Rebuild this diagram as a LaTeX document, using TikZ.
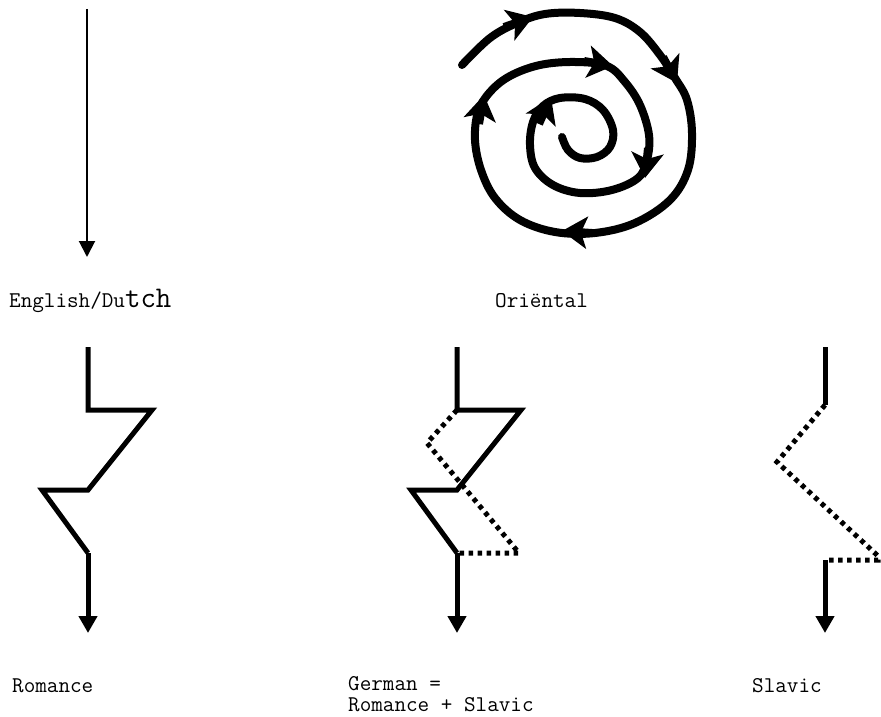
\documentclass[tikz,border=0pt]{standalone}
\usepackage{fontspec}
\usetikzlibrary{arrows.meta}
\tikzset{
  label/.style={font=\ttfamily\fontsize{22.5}{21}\selectfont, inner sep=0pt, anchor=base west, align=left},
  thinarrow/.style={line width=2pt, -{Triangle[length=16pt, width=16pt]}},
  branch/.style={line width=5pt},
  dotbranch/.style={line width=5pt, dash pattern=on 4.5pt off 4.5pt},
  downarrow/.style={line width=5pt, -{Triangle[length=17pt, width=18pt]}},
  spiral/.style={line width=8pt, line cap=round, line join=round},
  spiralhead/.style={line width=8pt, -{Stealth[length=25pt, width=32pt, inset=6pt]}}
}
\begin{document}
\begin{tikzpicture}[x=1pt, y=-1pt]
        \useasboundingbox (0,0) rectangle (881,717);
        % English/Dutch
        \coordinate (eTop) at (87,9);
        \coordinate (eTip) at (87,257);
        \draw[thinarrow] (eTop) -- (eTip);
        \node[label] (english) at (9,307) {English/Du{\fontsize{30}{30}\selectfont tch}};
        % Oriental spiral
        \draw[spiral] plot[smooth, tension=0.6] coordinates {
          (462,65) (490,38) (517,23) (545,14) (580,13) (615,18) (640,32) (660,55)
          (675,78) (687,100) (692,133) (688,170) (670,200) (635,223) (595,233)
          (555,232) (520,220) (495,198) (481,170) (475,140) (478,112) (490,92)
          (510,76) (540,65) (575,62) (607,66) (625,82) (640,105) (649,135)
          (647,160) (638,178) (612,190) (580,193) (553,185) (535,168) (530,145)
          (533,122) (543,106) (560,98) (585,99) (603,110) (613,130) (610,147)
          (597,157) (580,158) (568,150) (562,137)};
        \draw[spiralhead] (504,27) -- (533,17);
        \draw[spiralhead] (663,57) -- (677,83);
        \draw[spiralhead] (592,233) -- (562,231);
        \draw[spiralhead] (479,124) -- (484,95);
        \draw[spiralhead] (584,61) -- (613,66);
        \draw[spiralhead] (648,148) -- (645,178);
        \draw[spiralhead] (539,124) -- (551,97);
        \node[label] (oriental) at (495,307) {Oriëntal};
        % Romance
        \coordinate (r1) at (88,347);
        \coordinate (r2) at (88,410);
        \coordinate (r3) at (152,410);
        \coordinate (r4) at (88,490);
        \coordinate (r5) at (42,490);
        \coordinate (r6) at (88,553);
        \coordinate (r7) at (88,633);
        \draw[branch] (r1) -- (r2) -- (r3) -- (r4) -- (r5) -- (r6);
        \draw[downarrow] (r6) -- (r7);
        \node[label] (romance) at (12,692) {Romance};
        % German = Romance + Slavic
        \coordinate (g1) at (457,347);
        \coordinate (g2) at (457,410);
        \coordinate (g3) at (521,410);
        \coordinate (g4) at (457,490);
        \coordinate (g5) at (411,490);
        \coordinate (g6) at (457,553);
        \coordinate (g7) at (457,633);
        \coordinate (gd1) at (427,443);
        \coordinate (gd2) at (519,553);
        \draw[branch] (g1) -- (g2) -- (g3) -- (g4) -- (g5) -- (g6);
        \draw[dotbranch] (g2) -- (gd1) -- (gd2) -- (g6);
        \draw[downarrow] (g6) -- (g7);
        \node[label] (german) at (348,711) {German =\\Romance + Slavic};
        % Slavic
        \coordinate (s1) at (825,347);
        \coordinate (s2) at (825,405);
        \coordinate (sd1) at (777,462);
        \coordinate (sd2) at (878,556);
        \coordinate (s3) at (825,560);
        \coordinate (s4) at (825,633);
        \draw[branch] (s1) -- (s2);
        \draw[dotbranch] (s2) -- (sd1) -- (sd2) -- (sd2 |- s3) -- (s3);
        \draw[downarrow] (s3) -- (s4);
        \node[label] (slavic) at (752,692) {Slavic};
\end{tikzpicture}
\end{document}
